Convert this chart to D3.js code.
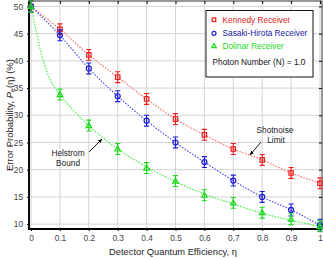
<!DOCTYPE html>
<html>
<head>
<meta charset="utf-8">
<script src="https://cdn.jsdelivr.net/npm/d3@7"></script>
<style>
  body { margin: 0; background: #fff; }
  text { font-family: "Liberation Sans", Arial, sans-serif; }
</style>
</head>
<body>
<div id="chart"></div>
<script>
// data
var eta = [0, 0.1, 0.2, 0.3, 0.4, 0.5, 0.6, 0.7, 0.8, 0.9, 1.0];
var kennedy = [50, 45.8, 41.1, 37.0, 33.0, 29.3, 26.4, 23.8, 21.8, 19.4, 17.5];
var sasaki  = [50, 44.7, 38.6, 33.5, 29.0, 25.0, 21.4, 18.0, 15.0, 12.6, 9.8];
var dolinar = [50, 33.8, 28.1, 23.8, 20.3, 17.9, 15.3, 13.9, 12.1, 10.9, 9.6];
var kennedyErr = [1, 1, 1, 1, 1, 1, 1, 1, 1, 1, 1];
var sasakiErr  = [1, 1, 1, 1, 1, 1, 1, 1, 1, 1.1, 1.1];
var dolinarErr = [1, 1, 1, 1, 1, 1, 1, 1, 1, 1, 1];
// dolinar fit curve drops steeply near 0
var dolinarFitEta = [0, 0.01, 0.02, 0.03, 0.045, 0.06, 0.08, 0.1, 0.15, 0.2, 0.3, 0.4, 0.5, 0.6, 0.7, 0.8, 0.9, 1.0];
var dolinarFit    = [50, 47.4, 45.0, 42.5, 39.6, 37.3, 35.2, 33.8, 30.7, 28.1, 23.8, 20.5, 17.8, 15.5, 13.7, 12.0, 10.7, 9.6];
var xTicks = [0, 0.1, 0.2, 0.3, 0.4, 0.5, 0.6, 0.7, 0.8, 0.9, 1];
var yTicks = [10, 15, 20, 25, 30, 35, 40, 45, 50];

var W = 323, H = 259;
var plotL = 29, plotR = 322, plotT = 1, plotB = 229;

var svg = d3.select("#chart").append("svg")
    .attr("width", W)
    .attr("height", H);

var x = d3.scaleLinear().domain([-0.007, 1.007]).range([plotL, plotR]);
var y = d3.scaleLinear().domain([9.1, 51]).range([plotB, plotT]);

// grid
svg.append("g").selectAll("line").data(xTicks).enter().append("line")
    .attr("x1", function(d) { return x(d); }).attr("x2", function(d) { return x(d); })
    .attr("y1", plotT).attr("y2", plotB)
    .attr("stroke", "#d4d4d4").attr("stroke-width", 1);
svg.append("g").selectAll("line").data(yTicks).enter().append("line")
    .attr("x1", plotL).attr("x2", plotR)
    .attr("y1", function(d) { return y(d); }).attr("y2", function(d) { return y(d); })
    .attr("stroke", "#d4d4d4").attr("stroke-width", 1);

// axes
svg.append("g")
    .attr("transform", "translate(0," + plotB + ")")
    .call(d3.axisBottom(x).tickValues(xTicks).tickSize(2).tickPadding(4)
        .tickFormat(function(d) { return d === 0 || d === 1 ? d3.format("d")(d) : d3.format(".1f")(d); }));
svg.append("g")
    .attr("transform", "translate(" + plotL + ",0)")
    .call(d3.axisLeft(y).tickValues(yTicks).tickSize(2).tickPadding(4));
svg.append("g")
    .attr("transform", "translate(0," + plotT + ")")
    .call(d3.axisBottom(x).tickValues(xTicks).tickSize(3).tickFormat(""));
svg.append("g")
    .attr("transform", "translate(" + plotR + ",0)")
    .call(d3.axisLeft(y).tickValues(yTicks).tickSize(3).tickFormat(""));
svg.selectAll(".domain").remove();
svg.selectAll(".tick text").attr("font-size", "8.3px").attr("fill", "#444")
    .style("font-family", "Liberation Sans, Arial, sans-serif");

// frame
svg.append("rect")
    .attr("x", plotL).attr("y", plotT)
    .attr("width", plotR - plotL).attr("height", plotB - plotT)
    .attr("fill", "none").attr("stroke", "#333").attr("stroke-width", 1);
svg.append("path")
    .attr("d", "M" + plotL + "," + plotT + "V" + plotB + "H" + plotR)
    .attr("fill", "none").attr("stroke", "#000").attr("stroke-width", 1.8);

// fit lines
var line = d3.line().curve(d3.curveMonotoneX)
    .x(function(d) { return x(d[0]); })
    .y(function(d) { return y(d[1]); });

function pairs(xs, ys) { return xs.map(function(v, i) { return [v, ys[i]]; }); }

var series = [
  { name: "Kennedy Receiver", vals: kennedy, err: kennedyErr, fit: pairs(eta, kennedy), color: "#ee1c1c", lineColor: "#ff6a6a", text: "#e02020", shape: "square" },
  { name: "Sasaki-Hirota Receiver", vals: sasaki, err: sasakiErr, fit: pairs(eta, sasaki), color: "#1d1dd6", lineColor: "#4a4af5", text: "#1a1aa8", shape: "circle" },
  { name: "Dolinar Receiver", vals: dolinar, err: dolinarErr, fit: pairs(dolinarFitEta, dolinarFit), color: "#1ed81e", lineColor: "#3cef3c", text: "#22dd22", shape: "triangle" }
];

series.forEach(function(s) {
  svg.append("path")
      .datum(s.fit)
      .attr("d", line)
      .attr("fill", "none")
      .attr("stroke", s.lineColor)
      .attr("stroke-width", 1.1)
      .attr("stroke-dasharray", "1.6,1.4");
});

function marker(g, shape, cx, cy, color, sz) {
  sz = sz || 1;
  if (shape === "square") {
    g.append("rect").attr("x", cx - 2.2 * sz).attr("y", cy - 2.2 * sz).attr("width", 4.4 * sz).attr("height", 4.4 * sz)
        .attr("fill", "none").attr("stroke", color).attr("stroke-width", 1.2);
  } else if (shape === "circle") {
    g.append("circle").attr("cx", cx).attr("cy", cy).attr("r", 2.5 * sz)
        .attr("fill", "none").attr("stroke", color).attr("stroke-width", 1.2);
  } else {
    g.append("path").attr("d", "M" + cx + "," + (cy - 3 * sz) + "L" + (cx + 2.8 * sz) + "," + (cy + 2 * sz) + "L" + (cx - 2.8 * sz) + "," + (cy + 2 * sz) + "Z")
        .attr("fill", "none").attr("stroke", color).attr("stroke-width", 1.2);
  }
}

series.forEach(function(s) {
  var g = svg.append("g");
  s.vals.forEach(function(v, i) {
    var cx = x(eta[i]), y0 = y(v + s.err[i]), y1 = y(v - s.err[i]);
    g.append("path")
        .attr("d", "M" + cx + "," + y0 + "V" + y1 + "M" + (cx - 2.6) + "," + y0 + "H" + (cx + 2.6) + "M" + (cx - 2.6) + "," + y1 + "H" + (cx + 2.6))
        .attr("fill", "none").attr("stroke", s.color).attr("stroke-width", 1.1);
    marker(g, s.shape, cx, y(v), s.color);
  });
});

// annotations
svg.append("defs").append("marker")
    .attr("id", "arrow").attr("viewBox", "0 0 10 10")
    .attr("refX", 9).attr("refY", 5)
    .attr("markerWidth", 5).attr("markerHeight", 5)
    .attr("orient", "auto")
  .append("path").attr("d", "M0,1L10,5L0,9Z").attr("fill", "#000");

svg.append("line").attr("x1", 89).attr("y1", 152).attr("x2", 102).attr("y2", 139)
    .attr("stroke", "#000").attr("stroke-width", 0.9).attr("marker-end", "url(#arrow)");
svg.append("line").attr("x1", 261).attr("y1", 142).attr("x2", 250).attr("y2", 155)
    .attr("stroke", "#000").attr("stroke-width", 0.9).attr("marker-end", "url(#arrow)");

var ann = svg.append("g").attr("font-size", "8.3px").attr("fill", "#222").attr("text-anchor", "middle");
ann.append("text").attr("x", 68).attr("y", 156).text("Helstrom");
ann.append("text").attr("x", 68).attr("y", 166).text("Bound");
ann.append("text").attr("x", 275).attr("y", 133).text("Shotnoise");
ann.append("text").attr("x", 276).attr("y", 142.5).text("Limit");

// legend
var lg = svg.append("g");
lg.append("rect").attr("x", 206).attr("y", 10.5).attr("width", 107).attr("height", 66.5)
    .attr("fill", "#fff").attr("stroke", "#111").attr("stroke-width", 1);
var rows = [19.7, 33.3, 46];
series.forEach(function(s, i) {
  marker(lg, s.shape, 214, rows[i], s.color, 0.8);
  lg.append("text").attr("x", 222.5).attr("y", rows[i] + 3)
      .attr("font-size", "8.3px").attr("fill", s.text).text(s.name);
});
lg.append("text").attr("x", 212.5).attr("y", 65)
    .attr("font-size", "8.3px").attr("fill", "#111").text("Photon Number (N) = 1.0");

// axis titles
svg.append("text")
    .attr("x", 173).attr("y", 254.5)
    .attr("text-anchor", "middle")
    .attr("font-size", "9.3px").attr("fill", "#222")
    .text("Detector Quantum Efficiency, \u03b7");

var yt = svg.append("text")
    .attr("transform", "translate(13,115) rotate(-90)")
    .attr("text-anchor", "middle")
    .attr("font-size", "9.5px").attr("fill", "#222");
yt.append("tspan").text("Error Probability, ");
yt.append("tspan").attr("font-style", "italic").text("P");
yt.append("tspan").attr("font-size", "7px").attr("dy", 2).text("e");
yt.append("tspan").attr("dy", -2).text("(\u03b7) (%)");
</script>
</body>
</html>
